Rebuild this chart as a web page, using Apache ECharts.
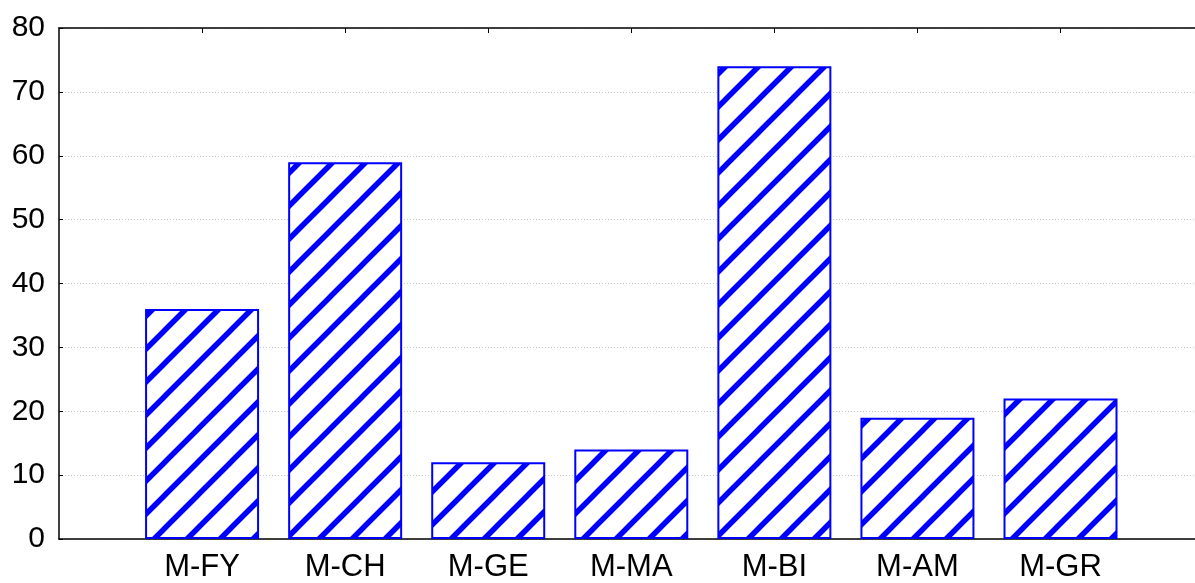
<!DOCTYPE html>
<html><head><meta charset="utf-8">
<script src="https://cdn.jsdelivr.net/npm/echarts@6/dist/echarts.min.js"></script>
<style>html,body{margin:0;padding:0;background:#fff;overflow:hidden}#c{width:1195px;height:583px}</style>
</head><body><div id="c"></div>
<script>
const categories = ['M-FY','M-CH','M-GE','M-MA','M-BI','M-AM','M-GR'];
const values = [36, 59, 12, 14, 74, 19, 22];
const yTicks = [0,10,20,30,40,50,60,70,80];
const xPos = categories.map((c, i) => i + 1);

// hatch pattern tile
const T = 33;
const tile = document.createElement('canvas');
tile.width = T; tile.height = T;
const g = tile.getContext('2d');
g.fillStyle = '#fff'; g.fillRect(0,0,T,T);
g.strokeStyle = '#0000ff'; g.lineWidth = 5.5; g.lineCap = 'square';
for (const o of [-T, 0, T]) {
  g.beginPath(); g.moveTo(o - 8, T + 8); g.lineTo(o + T + 8, -8); g.stroke();
}

const chart = echarts.init(document.getElementById('c'), null, {renderer:'canvas', width: 1195, height: 583});
const fontFam = '"Liberation Sans", Arial, sans-serif';
const xMax = 7.94;
chart.setOption({
  animation: false,
  grid: {left: 59, right: 0, top: 28, bottom: 44, containLabel: false},
  xAxis: [{
    type: 'value', min: 0, max: xMax, interval: 1, position: 'bottom',
    axisLine: {show: true, onZero: false, lineStyle: {color: '#000', width: 1.5}},
    axisTick: {show: true, inside: true, length: 5, customValues: xPos, lineStyle: {color: '#000'}},
    axisLabel: {fontSize: 31, color: '#000', fontFamily: fontFam, margin: 13, customValues: xPos,
      formatter: v => categories[Math.round(v) - 1] || ''},
    splitLine: {show: false}
  }, {
    type: 'value', min: 0, max: xMax, interval: 1, position: 'top',
    axisLine: {show: true, onZero: false, lineStyle: {color: '#000', width: 1.5}},
    axisTick: {show: true, inside: true, length: 5, customValues: xPos, lineStyle: {color: '#000'}},
    axisLabel: {show: false}, splitLine: {show: false}
  }],
  yAxis: {
    type: 'value', min: yTicks[0], max: yTicks[yTicks.length-1], interval: 10,
    axisLine: {show: true, lineStyle: {color: '#000', width: 1.5}},
    axisTick: {show: true, inside: true, length: 4, lineStyle: {color: '#000'}},
    axisLabel: {fontSize: 30, color: '#000', fontFamily: fontFam, margin: 14},
    splitLine: {show: true, lineStyle: {color: '#c8c8c8', type: [1, 2], width: 1}}
  },
  series: [{
    type: 'bar', xAxisIndex: 0, barWidth: 114,
    data: values.map((v, i) => [xPos[i], v]),
    itemStyle: {color: {image: tile, repeat: 'repeat'}, borderColor: '#0000ff', borderWidth: 2}
  }]
});
</script></body></html>
